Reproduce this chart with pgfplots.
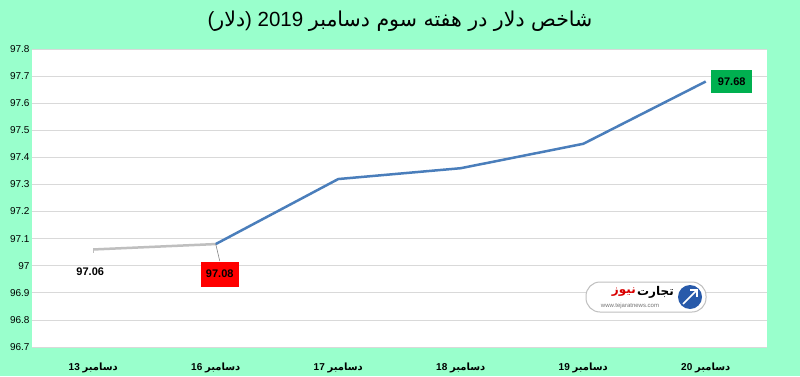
\documentclass[border=0pt]{standalone}
\usepackage{fontspec}
\setmainfont{Liberation Sans}
\newfontfamily\arabicfont[Script=Arabic]{DejaVu Sans}
\TeXXeTstate=1
\usepackage{pgfplots}
\pgfplotsset{compat=1.18}
\definecolor{bg}{RGB}{153,255,204}
\definecolor{lineblue}{RGB}{74,126,187}
\definecolor{linegray}{RGB}{191,191,191}
\definecolor{boxred}{RGB}{255,0,0}
\definecolor{boxgreen}{RGB}{0,176,80}
\definecolor{logoblue}{RGB}{40,90,170}
\newcommand{\xl}[1]{\textbf{#1} {\arabicfont\bfseries\beginR دسامبر\endR}}
\begin{document}
\begin{tikzpicture}[x=1pt,y=1pt]
\fill[bg] (0,0) rectangle (800,376);
\useasboundingbox (0,0) rectangle (800,376);
\node[font=\fontsize{20.5}{24}\selectfont] at (400,355) {({\arabicfont\beginR دلار\endR})\ 2019\ {\arabicfont\beginR شاخص دلار در هفته سوم دسامبر\endR}};
\begin{axis}[
  at={(32pt,29pt)}, anchor=south west,
  width=735pt, height=298pt, scale only axis,
  xmin=-0.5, xmax=5.5, ymin=96.7, ymax=97.8,
  axis background/.style={fill=white},
  axis line style={draw=none},
  ymajorgrids, major grid style={draw=black!15, line width=0.8pt},
  tick style={draw=none}, major tick length=0pt,
  ytick={96.7,96.8,96.9,97,97.1,97.2,97.3,97.4,97.5,97.6,97.7,97.8},
  yticklabels={96.7,96.8,96.9,97,97.1,97.2,97.3,97.4,97.5,97.6,97.7,97.8},
  yticklabel style={font=\fontsize{10}{12}\selectfont, xshift=1pt},
  xtick={0,1,2,3,4,5},
  xticklabels={\xl{13},\xl{16},\xl{17},\xl{18},\xl{19},\xl{20}},
  xticklabel style={font=\fontsize{10}{12}\selectfont, yshift=-12pt},
  clip=false,
]
\addplot[linegray, line width=2.5pt] coordinates {(0,97.06) (1,97.08)};
\addplot[lineblue, line width=2.5pt] coordinates {(1,97.08) (2,97.32) (3,97.36) (4,97.45) (5,97.68)};
\draw[linegray, line width=0.8pt] (axis cs:0,97.06) -- ++(0pt,-4pt);
\node[font=\fontsize{11}{12}\selectfont\bfseries] at (axis cs:0,97.06) [xshift=-3pt, yshift=-22pt] {97.06};
\draw[linegray!70!black, line width=0.6pt] (axis cs:1,97.08) -- ++(4pt,-17pt);
\node[font=\fontsize{11}{12}\selectfont\bfseries, fill=boxred, minimum width=38pt, minimum height=25pt, inner sep=0pt] at (axis cs:1,97.08) [xshift=4pt, yshift=-30pt] {97.08};
\node[font=\fontsize{11}{12}\selectfont\bfseries, fill=boxgreen, minimum width=41pt, minimum height=23pt, inner sep=0pt] at (axis cs:5,97.68) [xshift=26pt, yshift=0pt] {97.68};
\end{axis}
% watermark logo
\draw[black!25, fill=white, rounded corners=14pt, line width=1pt] (586,64) rectangle (706,94);
\fill[logoblue] (690,79) circle (12);
\draw[white, line width=1.6pt] (683,72) -- (697,86);
\draw[white, line width=1.2pt] (690,86) -- (697,86) -- (697,79);
\node[font=\fontsize{12}{14}\selectfont\arabicfont\bfseries, anchor=east, inner sep=0pt] (tj) at (674,84) {\beginR تجارت\endR};
\node[font=\fontsize{12}{14}\selectfont\arabicfont\bfseries, text=red!85!black, anchor=east, inner sep=0pt] at ([xshift=-1pt]tj.west) {\beginR نیوز\endR};
\node[font=\fontsize{6}{7}\selectfont, text=black!55] at (630,70) {www.tejaratnews.com};
\end{tikzpicture}
\end{document}
